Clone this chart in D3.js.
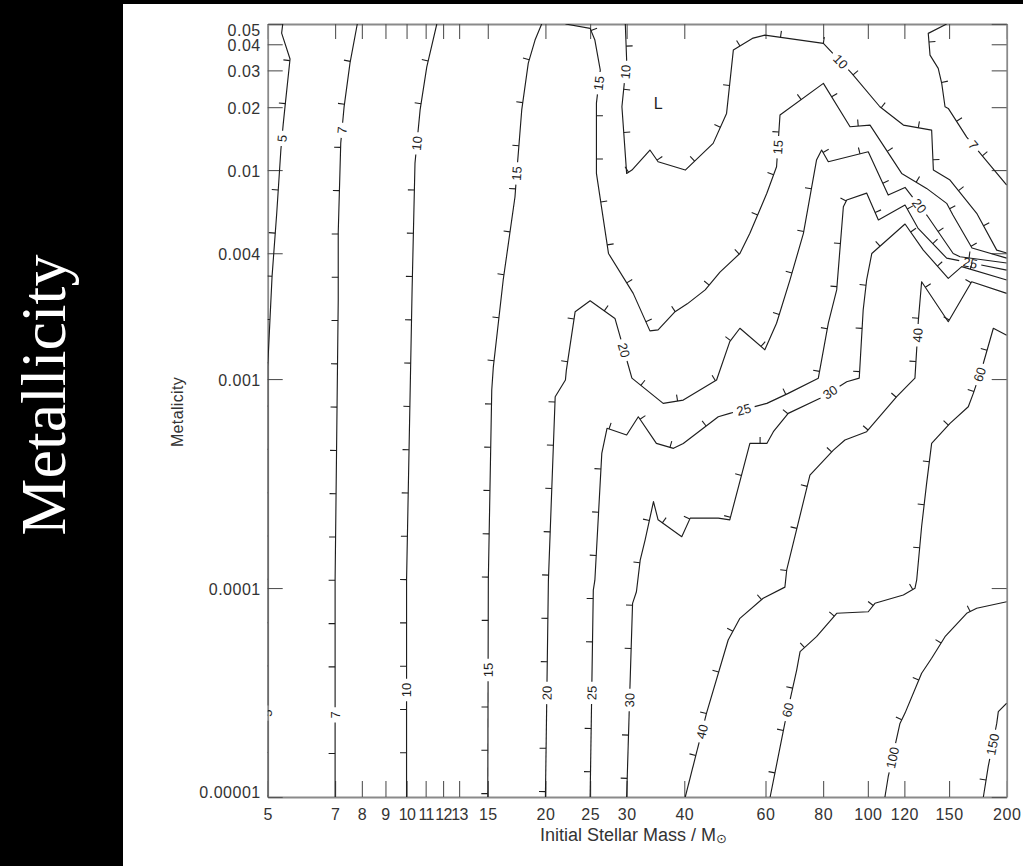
<!DOCTYPE html>
<html>
<head>
<meta charset="utf-8">
<script src="https://cdn.jsdelivr.net/npm/d3@7"></script>
<style>
  html, body { margin: 0; padding: 0; background: #000; }
  svg { display: block; }
</style>
</head>
<body>
<svg id="chart" width="1023" height="866"></svg>
<script>
// ---- axis ticks ----
const massTicks = [5, 7, 8, 9, 10, 11, 12, 13, 15, 20, 25, 30, 40, 60, 80, 100, 120, 150, 200];
const zTicks = [0.00001, 0.0001, 0.001, 0.004, 0.01, 0.02, 0.03, 0.04, 0.05];
const zTickLabels = ["0.00001", "0.0001", "0.001", "0.004", "0.01", "0.02", "0.03", "0.04", "0.05"];

// ---- contour lines: vertices as [initial mass (Msun), metallicity Z] ----
// each line runs with the lower-valued side to the right-hand normal (-dy, dx) on screen
const c5 = [[5.39,0.05],[5.36,0.0452],[5.59,0.034],[5.45,0.02],[5.40,0.0164],[5.34,0.0125],[5.23,0.0062],[5.11,0.0031],[5.0,0.00115],[5,0.00001]];
const c5Labels = [[5.32,0.0142],[5.0,0.0000252]];

const c7 = [[7.82,0.05],[7.54,0.0325],[7.32,0.02],[7.20,0.01346],[7.11,0.005],[7.11,0.00239],[7.0,0.000109],[7.0,0.00001]];
const c7Labels = [[7.23,0.0155],[7.0,0.0000247]];

const c7b = [[200,0.00848],[181.0,0.01104],[163.8,0.01438],[149.4,0.01973],[147.0,0.02009],[144.6,0.0260],[142.1,0.03066],[136.4,0.03549],[135.2,0.04509],[148.2,0.05]];
const c7bLabels = [[168.2,0.01302]];

const c10 = [[11.63,0.05],[11.06,0.0311],[10.70,0.0194],[10.43,0.0108],[10.28,0.00267],[10.0,0.000109],[10,0.00001]];
const c10Labels = [[10.6,0.0134],[10.0,0.0000325]];

const c10b = [[200,0.00401],[190.3,0.00414],[172.2,0.00621],[150.7,0.00896],[138.7,0.0100],[137.5,0.01554],[119.4,0.01642],[106.2,0.02009],[92.3,0.02902],[80.1,0.04038],[59.8,0.04425],[56.4,0.04281],[51.1,0.03751],[49.4,0.01867],[46.2,0.01342],[40.2,0.0100],[35.1,0.01096],[33.7,0.01247],[30.8,0.0100],[30.0,0.00964],[29.3,0.02009],[30.0,0.03359],[29.8,0.05]];
const c10bLabels = [[87.0,0.03286],[30.0,0.02944]];

const c15 = [[19.63,0.05],[18.99,0.0419],[18.36,0.0325],[17.77,0.0194],[17.33,0.00967],[17.18,0.00743],[16.20,0.00298],[15.42,0.00114],[15.30,0.000886],[15.04,0.000109],[15,0.00001]];
const c15Labels = [[17.33,0.00964],[15.0,0.0000405]];

const c15b = [[200,0.00379],[168.2,0.00424],[152.9,0.00609],[148.2,0.00693],[134.1,0.00817],[118.4,0.00964],[101.1,0.01642],[91.5,0.01612],[80.1,0.0260],[64.5,0.01833],[63.4,0.01037],[60.4,0.00774],[55.5,0.00498],[52.8,0.00399],[47.8,0.00325],[44.4,0.00267],[40.6,0.00229],[38.2,0.0021],[35.1,0.00172],[33.7,0.0017],[31.0,0.00257],[27.4,0.00399],[25.8,0.00964],[25.8,0.02092],[26.3,0.03009],[25.6,0.04188],[25.0,0.04764],[22.1,0.05]];
const c15bLabels = [[63.6,0.01288],[26.0,0.02608]];

const c20 = [[200,0.00359],[158.4,0.00385],[153.1,0.00399],[135.0,0.00598],[120.4,0.00826],[110.7,0.00759],[100.2,0.01224],[82.1,0.01096],[79.4,0.01247],[77.4,0.01116],[72.5,0.00498],[67.8,0.00298],[63.4,0.00185],[59.8,0.00138],[52.8,0.00175],[50.2,0.00151],[47.0,0.000989],[39.8,0.000793],[36.0,0.000765],[30.8,0.00101],[28.3,0.00195],[25.0,0.00237],[23.2,0.0021],[22.2,0.0011],[22.1,0.000989],[21.0,0.000823],[20.3,0.000109],[20.0,0.00001]];
const c20Labels = [[128.4,0.00665],[29.8,0.00138],[20.0,0.0000315]];

const c25 = [[200,0.00332],[148.2,0.00379],[128.4,0.00528],[120.4,0.0068],[105.4,0.00577],[99.4,0.00776],[90.0,0.00719],[88.5,0.00668],[85.6,0.00267],[82.1,0.00185],[78.1,0.00101],[67.2,0.000854],[60.4,0.000765],[50.2,0.000685],[47.4,0.00066],[39.8,0.000492],[37.9,0.000466],[34.8,0.000492],[31.8,0.00066],[30.0,0.00054],[27.2,0.000581],[26.5,0.000441],[25.6,0.000109],[25.4,0.0000978],[25.0,0.00001]];
const c25Labels = [[166.5,0.00355],[53.3,0.000776],[25.1,0.0000315]];

const c30 = [[200,0.00298],[159.8,0.00345],[149.4,0.00303],[131.9,0.00414],[120.4,0.00552],[102.0,0.00399],[99.4,0.00298],[97.7,0.00214],[95.8,0.00101],[90.0,0.000971],[78.8,0.000809],[67.2,0.000685],[62.4,0.00056],[60.4,0.000492],[55.5,0.000492],[50.2,0.000212],[47.4,0.000216],[41.2,0.000216],[39.5,0.000176],[35.1,0.000212],[34.3,0.000259],[32.9,0.00017],[32.1,0.000136],[31.5,0.000096],[30.9,0.0000845],[30.5,0.0000337],[30.0,0.00001]];
const c30Labels = [[82.8,0.000867],[30.3,0.0000291]];

const c40 = [[200,0.00257],[167.9,0.00292],[149.4,0.00188],[130.8,0.00292],[128.7,0.00192],[127.6,0.00138],[126.5,0.00101],[123.4,0.000957],[115.5,0.000823],[99.4,0.00056],[89.2,0.000511],[84.2,0.000457],[74.9,0.000347],[66.7,0.000122],[66.1,0.000101],[59.3,0.0000893],[52.8,0.0000716],[49.8,0.0000564],[44.7,0.0000252],[40.2,0.00001]];
const c40Labels = [[128.4,0.00162],[44.0,0.0000205]];

const c60 = [[200,0.00162],[187.1,0.00175],[178.0,0.00119],[169.3,0.000854],[165.1,0.000737],[150.7,0.000614],[137.5,0.000492],[134.1,0.000317],[130.8,0.000197],[127.6,0.000109],[126.5,0.0000997],[119.4,0.0000926],[103.6,0.0000845],[100.2,0.000077],[85.6,0.0000757],[77.4,0.0000585],[71.3,0.0000496],[70.1,0.0000405],[67.8,0.0000291],[66.1,0.0000226],[61.4,0.00001]];
const c60Labels = [[175.1,0.00105],[66.9,0.0000261]];

const c100 = [[200,0.000086],[172.2,0.00008],[163.8,0.0000757],[147.0,0.0000585],[137.5,0.0000461],[130.8,0.0000391],[120.4,0.0000252],[117.4,0.0000225],[110.7,0.0000125],[108.9,0.00001]];
const c100Labels = [[113.2,0.0000154]];

const c150 = [[200,0.0000281],[191.8,0.0000256],[190.3,0.0000225],[182.4,0.000014],[178.0,0.00001]];
const c150Labels = [[185.6,0.0000179]];

// local minimum marker
const minima = [[35.1, 0.0209]];

const contours = [
  { level: 5,   pts: c5,   labels: c5Labels },
  { level: 7,   pts: c7,   labels: c7Labels },
  { level: 7,   pts: c7b,  labels: c7bLabels },
  { level: 10,  pts: c10,  labels: c10Labels },
  { level: 10,  pts: c10b, labels: c10bLabels },
  { level: 15,  pts: c15,  labels: c15Labels },
  { level: 15,  pts: c15b, labels: c15bLabels },
  { level: 20,  pts: c20,  labels: c20Labels },
  { level: 25,  pts: c25,  labels: c25Labels },
  { level: 30,  pts: c30,  labels: c30Labels },
  { level: 40,  pts: c40,  labels: c40Labels },
  { level: 60,  pts: c60,  labels: c60Labels },
  { level: 100, pts: c100, labels: c100Labels },
  { level: 150, pts: c150, labels: c150Labels }
];

// ---- layout ----
const W = 1023, H = 866;
const plot = { left: 267.7, right: 1006.7, top: 24, bottom: 797 };
const SANS = "'Liberation Sans', Arial, Helvetica, sans-serif";
const INK = "#1e1e1e";

const svg = d3.select("#chart");
svg.append("rect").attr("width", W).attr("height", H).attr("fill", "#000");
svg.append("rect").attr("x", 123).attr("y", 4).attr("width", W - 123).attr("height", H - 4).attr("fill", "#fff");

const x = d3.scaleLog().domain([5, 200]).range([plot.left, plot.right]);
const y = d3.scaleLog().domain([0.00001, 0.05]).range([plot.bottom, plot.top]);

// big side title
svg.append("text")
  .attr("transform", "translate(65,395) rotate(-90)")
  .attr("text-anchor", "middle")
  .attr("font-family", "'Liberation Serif', 'Times New Roman', serif")
  .attr("font-size", 64)
  .attr("fill", "#fff")
  .text("Metallicity");

// ---- axes ----
function styleAxis(g) {
  g.attr("font-family", SANS).attr("font-size", 16);
  g.select(".domain").attr("stroke", "#8a8a8a").attr("stroke-width", 1.8);
  g.selectAll(".tick line").attr("stroke", "#555").attr("stroke-width", 1.1);
  g.selectAll(".tick text").attr("fill", "#333").attr("letter-spacing", "0.5px");
}

const gBottom = svg.append("g")
  .attr("transform", `translate(0,${plot.bottom})`)
  .call(d3.axisBottom(x).tickValues(massTicks).tickFormat(d3.format("d"))
    .tickSizeInner(-16).tickSizeOuter(0).tickPadding(12))
  .call(styleAxis);
// the 10-13 labels are tightly packed on the log axis
gBottom.selectAll(".tick text").filter(d => d >= 10 && d <= 13)
  .attr("letter-spacing", "-0.6px");

svg.append("g")
  .attr("transform", `translate(0,${plot.top})`)
  .call(d3.axisTop(x).tickValues(massTicks).tickFormat("")
    .tickSizeInner(-15).tickSizeOuter(0))
  .call(styleAxis);

const gLeft = svg.append("g")
  .attr("transform", `translate(${plot.left},0)`)
  .call(d3.axisLeft(y).tickValues(zTicks).tickFormat((d, i) => zTickLabels[i])
    .tickSizeInner(-15).tickSizeOuter(0).tickPadding(7))
  .call(styleAxis);
// keep the end labels inside the frame height
gLeft.selectAll(".tick text").attr("y", d => {
  const c = Math.max(plot.top + 6, Math.min(plot.bottom - 4.5, y(d) + 1.5));
  return c - y(d);
});

svg.append("g")
  .attr("transform", `translate(${plot.right},0)`)
  .call(d3.axisRight(y).tickValues(zTicks).tickFormat("")
    .tickSizeInner(-15).tickSizeOuter(0))
  .call(styleAxis);

// axis titles
svg.append("text")
  .attr("transform", "translate(183.4,412) rotate(-90)")
  .attr("text-anchor", "middle")
  .attr("font-family", SANS).attr("font-size", 16)
  .attr("letter-spacing", "0.35px")
  .attr("fill", "#333")
  .text("Metalicity");

const xt = svg.append("text")
  .attr("x", 540).attr("y", 841)
  .attr("font-family", SANS).attr("font-size", 18)
  .attr("fill", "#333")
  .text("Initial Stellar Mass / M");
xt.append("tspan").attr("font-size", 13).attr("dy", 2)
  .attr("font-family", "'DejaVu Sans', sans-serif").text("\u2299");

// ---- contours ----
svg.append("clipPath").attr("id", "plotClip").append("rect")
  .attr("x", plot.left).attr("y", plot.top)
  .attr("width", plot.right - plot.left).attr("height", plot.bottom - plot.top);

const lineG = svg.append("g").attr("clip-path", "url(#plotClip)");
const tickG = svg.append("g").attr("clip-path", "url(#plotClip)");
const labelG = svg.append("g").attr("clip-path", "url(#plotClip)")
  .attr("font-family", SANS).attr("font-size", 13).attr("fill", INK);

const TICK_START = 38, TICK_STEP = 43.3, TICK_LEN = 6.5;
const line = d3.line();

function pointAt(P, L, s) {
  let i = 0;
  while (i < P.length - 2 && L[i + 1] < s) i++;
  const seg = L[i + 1] - L[i] || 1;
  const t = Math.max(0, Math.min(1, (s - L[i]) / seg));
  const dx = P[i + 1][0] - P[i][0], dy = P[i + 1][1] - P[i][1];
  const len = Math.hypot(dx, dy) || 1;
  return { x: P[i][0] + t * dx, y: P[i][1] + t * dy, ux: dx / len, uy: dy / len };
}

function subPath(P, L, s0, s1) {
  const a = pointAt(P, L, s0), b = pointAt(P, L, s1);
  const out = [[a.x, a.y]];
  for (let i = 0; i < P.length; i++) if (L[i] > s0 && L[i] < s1) out.push(P[i]);
  out.push([b.x, b.y]);
  return out;
}

contours.forEach(c => {
  const P = c.pts.map(d => [x(d[0]), y(d[1])]);
  const L = [0];
  for (let i = 1; i < P.length; i++) L.push(L[i - 1] + Math.hypot(P[i][0] - P[i - 1][0], P[i][1] - P[i - 1][1]));
  const total = L[L.length - 1];

  // labels sit in gaps of the line
  const gaps = [];
  c.labels.forEach(a => {
    const q = [x(a[0]), y(a[1])];
    let best = { d: Infinity };
    for (let i = 0; i < P.length - 1; i++) {
      const ax = P[i][0], ay = P[i][1], vx = P[i + 1][0] - ax, vy = P[i + 1][1] - ay;
      const len2 = vx * vx + vy * vy;
      let t = len2 ? ((q[0] - ax) * vx + (q[1] - ay) * vy) / len2 : 0;
      t = Math.max(0, Math.min(1, t));
      const px = ax + t * vx, py = ay + t * vy;
      const d = Math.hypot(q[0] - px, q[1] - py);
      if (d < best.d) best = { d, px, py, s: L[i] + t * Math.sqrt(len2), ang: Math.atan2(vy, vx) * 180 / Math.PI };
    }
    // near-vertical labels read bottom to top
    let ang = best.ang;
    if (ang > 84) ang -= 180;
    if (ang < -96) ang += 180;
    const t = labelG.append("text")
      .attr("transform", `translate(${best.px},${best.py}) rotate(${ang})`)
      .attr("text-anchor", "middle").attr("dy", "0.36em")
      .text(c.level);
    const w = t.node().getComputedTextLength();
    gaps.push([best.s - w / 2 - 4, best.s + w / 2 + 4]);
  });

  gaps.sort((a, b) => a[0] - b[0]);
  const pieces = [];
  let start = 0;
  gaps.forEach(g => { if (g[0] > start) pieces.push([start, g[0]]); start = Math.max(start, g[1]); });
  if (start < total) pieces.push([start, total]);

  pieces.forEach(([s0, s1]) => {
    lineG.append("path")
      .attr("d", line(subPath(P, L, s0, s1)))
      .attr("fill", "none").attr("stroke", INK).attr("stroke-width", 1.15)
      .attr("stroke-linejoin", "round");
  });

  // downhill ticks
  for (let s = TICK_START; s < total - 1; s += TICK_STEP) {
    if (gaps.some(g => s > g[0] - 2 && s < g[1] + 2)) continue;
    const p = pointAt(P, L, s);
    tickG.append("line")
      .attr("x1", p.x).attr("y1", p.y)
      .attr("x2", p.x - p.uy * TICK_LEN).attr("y2", p.y + p.ux * TICK_LEN)
      .attr("stroke", INK).attr("stroke-width", 1.1);
  }
});

// local minimum marker
labelG.selectAll("text.min").data(minima).enter().append("text")
  .attr("class", "min")
  .attr("x", d => x(d[0])).attr("y", d => y(d[1]))
  .attr("text-anchor", "middle").attr("dy", "0.36em")
  .attr("font-size", 16)
  .text("L");
</script>
</body>
</html>
